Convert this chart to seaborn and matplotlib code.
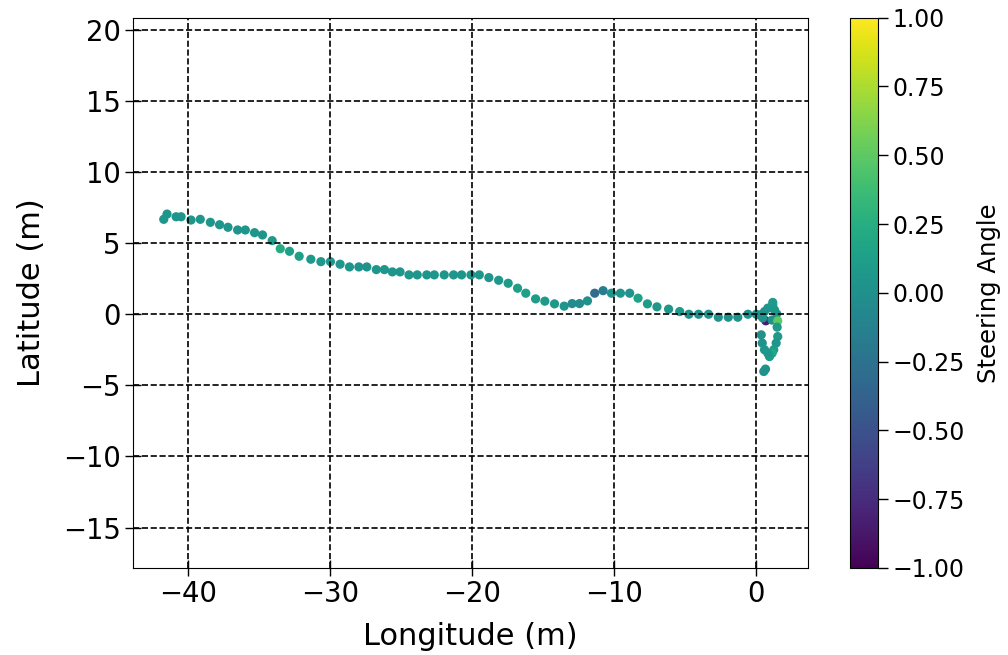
import numpy as np
import pandas as pd
import seaborn as sns
import matplotlib
matplotlib.use("Agg")
import matplotlib.pyplot as plt
from matplotlib.ticker import MultipleLocator, FuncFormatter
from matplotlib.colors import Normalize
from matplotlib.cm import ScalarMappable

# trajectory
longitude = [-41.71, -41.48, -40.84, -40.49, -39.79, -39.14, -38.43, -37.78, -37.19, -36.51,
             -35.97, -35.32, -34.76, -34.08, -33.51, -32.86, -32.18, -31.36, -30.65, -29.98,
             -29.30, -28.64, -27.98, -27.42, -26.75, -26.18, -25.62, -25.08, -24.45, -23.87,
             -23.20, -22.67, -21.97, -21.31, -20.75, -20.09, -19.50, -18.83, -18.14, -17.47,
             -16.81, -16.23, -15.54, -14.89, -14.21, -13.53, -12.97, -12.45, -11.89, -11.38,
             -10.79, -10.20, -9.57, -8.92, -8.33, -7.67, -7.00, -6.18, -5.40, -4.75,
             -4.07, -3.37, -2.68, -1.98, -1.31, -0.60, -0.01,
             0.66, 0.22, 0.45, 0.57, 0.80, 1.15, 1.15, 1.27, 1.43, 1.10, 1.50,
             1.46, 1.50, 1.39, 1.22, 1.11, 0.92, 0.34, 0.41, 0.57, 0.80, 0.64, 0.52]
latitude = [6.69, 7.06, 6.87, 6.87, 6.64, 6.69, 6.48, 6.31, 6.13, 5.94,
            5.94, 5.75, 5.59, 5.19, 4.62, 4.44, 4.09, 3.88, 3.71, 3.71,
            3.53, 3.34, 3.34, 3.34, 3.15, 3.15, 2.99, 2.99, 2.78, 2.78,
            2.78, 2.78, 2.78, 2.78, 2.78, 2.78, 2.78, 2.59, 2.40, 2.19,
            1.84, 1.49, 1.09, 0.93, 0.74, 0.58, 0.76, 0.76, 0.95, 1.49,
            1.67, 1.49, 1.49, 1.49, 1.14, 0.74, 0.53, 0.37, 0.20, 0.01,
            0.01, 0.01, -0.20, -0.20, -0.20, 0.01, 0.01,
            -0.45, -0.04, -0.25, 0.20, 0.44, 0.67, 0.84, 0.32, 0.04, -0.40, -0.46,
            -0.90, -1.56, -2.02, -2.49, -2.73, -2.97, -1.44, -2.02, -2.49, -2.73, -3.85, -4.02]
steering = [0.05, 0.05, 0.05, 0.05, 0.05, 0.05, 0.05, 0.05, 0.05, 0.03,
            0.05, 0.05, 0.05, 0.08, 0.22, 0.12, 0.12, 0.08, 0.06, 0.06,
            0.06, 0.05, 0.02, 0.02, 0.05, 0.05, 0.05, 0.05, 0.05, 0.05,
            0.05, 0.05, 0.05, 0.05, 0.05, 0.05, 0.05, 0.05, 0.06, 0.08,
            0.12, 0.14, 0.10, 0.08, 0.06, 0.04, -0.05, -0.03, 0.0, -0.3,
            -0.15, 0.05, 0.05, 0.03, 0.15, 0.10, 0.06, 0.05, 0.08, 0.02,
            0.0, 0.0, 0.0, 0.02, 0.02, 0.0, 0.03,
            -0.85, 0.0, 0.02, 0.02, 0.05, 0.05, 0.08, 0.05, 0.05, 0.03, 0.5,
            0.08, 0.08, 0.05, 0.1, 0.2, 0.08, 0.0, 0.02, 0.05, 0.05, 0.0, 0.0]
cbar_ticks = [-1.0, -0.75, -0.5, -0.25, 0.0, 0.25, 0.5, 0.75, 1.0]

df = pd.DataFrame({"lon": longitude, "lat": latitude, "steer": steering})

fig = plt.figure(figsize=(10.08, 6.55), dpi=100)
ax = fig.add_axes([0.132, 0.133, 0.670, 0.840])
cax = fig.add_axes([0.8435, 0.133, 0.0275, 0.840])

sns.scatterplot(data=df, x="lon", y="lat", hue="steer", palette="viridis",
                hue_norm=(-1, 1), s=44, linewidth=0, legend=False, ax=ax)

ax.set_aspect("equal", adjustable="datalim")
ax.xaxis.set_major_locator(MultipleLocator(10))
ax.yaxis.set_major_locator(MultipleLocator(5))
ax.grid(True, color="black", linestyle="--", linewidth=1.2)
ax.tick_params(direction="inout", length=11, width=1, labelsize=19.8)
ax.set_xlabel("Longitude (m)", fontsize=22, labelpad=10)
ax.set_ylabel("Latitude (m)", fontsize=22, labelpad=12)

sm = ScalarMappable(norm=Normalize(-1, 1), cmap="viridis")
cb = fig.colorbar(sm, cax=cax)
cb.set_ticks(cbar_ticks)
cb.ax.yaxis.set_major_formatter(FuncFormatter(lambda v, p: ("%.2f" % v).replace("-", "\u2212")))
cb.ax.tick_params(labelsize=17, length=7, width=1)
cb.set_label("Steering Angle", fontsize=17.5, labelpad=9)

fig.savefig("out.png", dpi=100)
